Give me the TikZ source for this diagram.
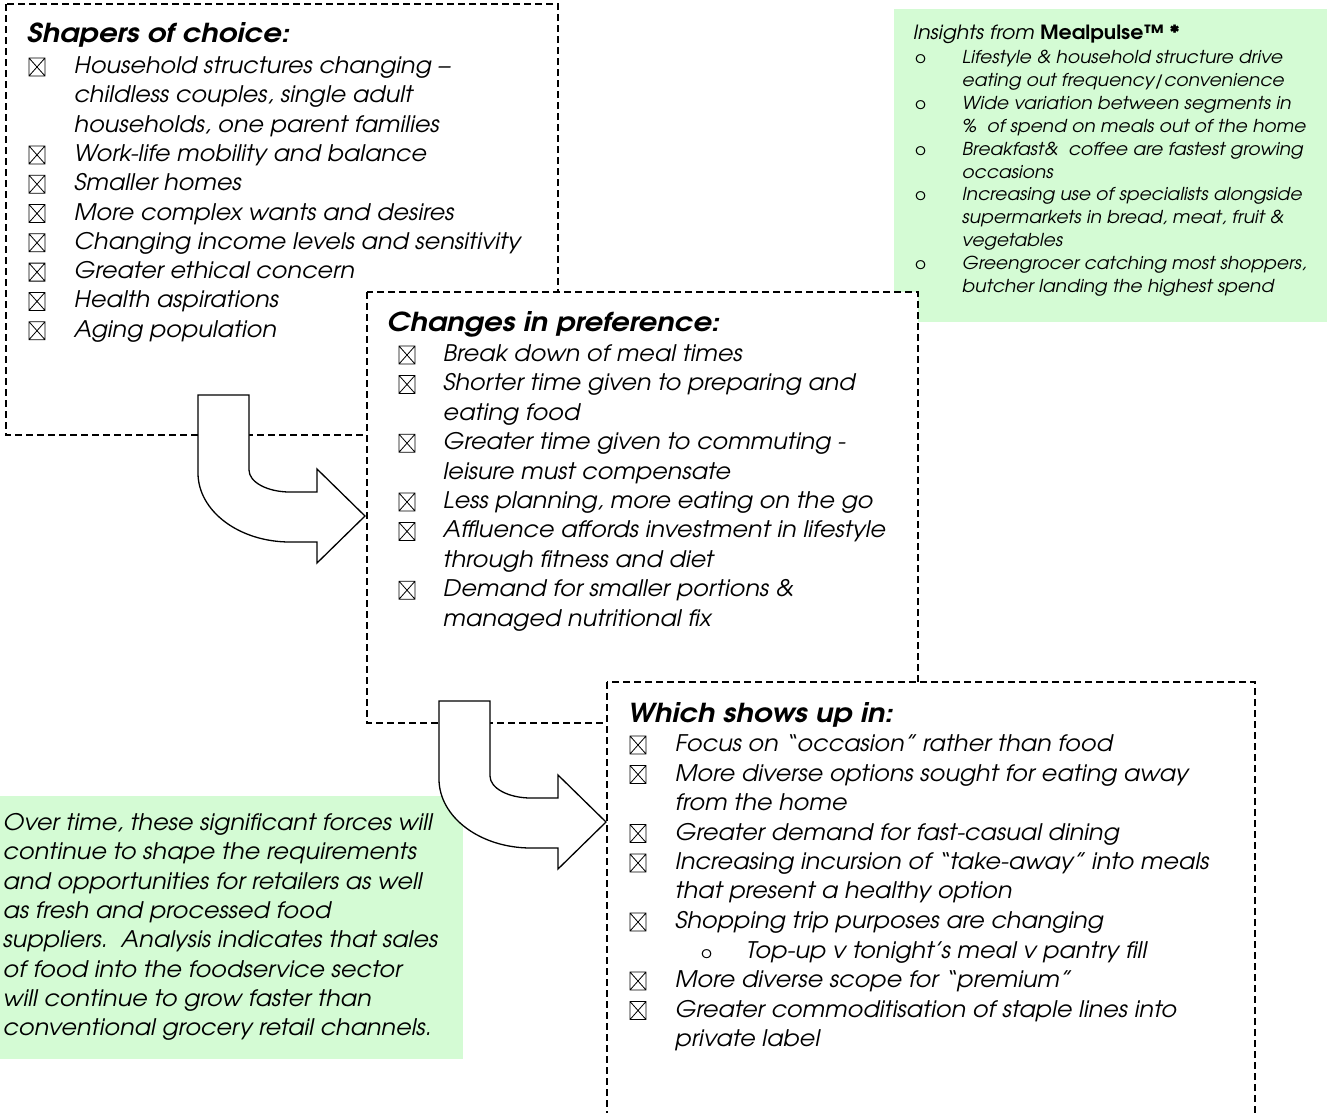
\documentclass[tikz,border=0pt]{standalone}
\usepackage{fontspec}
\setmainfont{texgyreadventor}[Extension=.otf, UprightFont=*-regular, BoldFont=*-bold, ItalicFont=*-italic, BoldItalicFont=*-bolditalic, FakeStretch=1.05]
\newfontfamily\ttlfont{texgyreadventor}[Extension=.otf, UprightFont=*-bolditalic, FakeStretch=1.12]
\definecolor{lgreen}{RGB}{212,251,212}
\newcommand\ml[1]{\begin{tabular}[t]{@{}l@{}}#1\end{tabular}}
\begin{document}
\begin{tikzpicture}[x=1pt,y=-1pt,
  dbox/.style={draw, dash pattern=on 7pt off 4pt, line width=1.2pt, fill=white},
  gbox/.style={fill=lgreen},
  barrow/.style={draw, fill=white, line width=1.3pt, line join=miter},
  body/.style={inner sep=0, anchor=base west, font=\itshape\fontsize{22.8}{29.3}\selectfont},
  ttl/.style={inner sep=0, anchor=base west, font=\ttlfont\fontsize{26.1}{29}\selectfont},
  small/.style={inner sep=0, anchor=base west, font=\itshape\fontsize{17.8}{22.9}\selectfont},
  obul/.style={inner sep=0, anchor=base west, font=\fontsize{16}{18}\selectfont},
  xbox/.pic={\draw[line width=0.8pt] (0,0) rectangle (16,-18) (0,0)--(16,-18) (0,-18)--(16,0);}]
\useasboundingbox (0,0) rectangle (1327,1112);
\clip (0,0) rectangle (1327,1112);
% backgrounds and boxes
\fill[gbox] (894,9) rectangle (1327,322);
\draw[dbox] (6,4) rectangle (558,435);
\draw[dbox] (367,292) rectangle (918,723);
\draw[dbox] (607,682) rectangle (1255,1140);
\fill[gbox] (0,796) rectangle (463,1059);
% block arrows
\foreach \dx/\dy in {0/0, 241/306}{
\draw[barrow, shift={(\dx,\dy)}] (198,395) -- (249,395) -- (249,470)
  .. controls (249,482) and (267,492) .. (290,492) -- (317,492) -- (317,469)
  -- (365,516) -- (317,563) -- (317,542) -- (290,542)
  .. controls (239,542) and (198,511) .. (198,473) -- cycle;
}
% Box 1
\node[ttl] (t1) at (27,42) {Shapers of choice:};
\foreach \k/\txt [count=\i] in {0/{\ml{Household structures changing –\\childless couples, single adult\\households, one parent families}},
  3/{Work-life mobility and balance}, 4/{Smaller homes}, 5/{More complex wants and desires},
  6/{Changing income levels and sensitivity}, 7/{Greater ethical concern},
  8/{Health aspirations}, 9/{Aging population}}{
  \pic at (29,76+29.3*\k) {xbox};
  \node[body] (a\i) at (74,73.5+29.3*\k) {\txt};
}
% Box 2
\node[ttl] (t2) at (387,331) {Changes in preference:};
\foreach \k/\txt [count=\i] in {0/{Break down of meal times},
  1/{\ml{Shorter time given to preparing and\\eating food}},
  3/{\ml{Greater time given to commuting -\\leisure must compensate}},
  5/{Less planning, more eating on the go},
  6/{\ml{Affluence affords investment in lifestyle\\through fitness and diet}},
  8/{\ml{Demand for smaller portions \&\\managed nutritional fix}}}{
  \pic at (399,364+29.4*\k) {xbox};
  \node[body] (c\i) at (443,361.5+29.4*\k) {\txt};
}
% Box 3
\node[ttl] (t3) at (628,722) {Which shows up in:};
\foreach \k/\txt [count=\i] in {0/{Focus on “occasion” rather than food},
  1/{\ml{More diverse options sought for eating away\\from the home}},
  3/{Greater demand for fast-casual dining},
  4/{\ml{Increasing incursion of “take-away” into meals\\that present a healthy option}},
  6/{Shopping trip purposes are changing},
  8/{More diverse scope for “premium”},
  9/{\ml{Greater commoditisation of staple lines into\\private label}}}{
  \pic at (630,754+29.5*\k) {xbox};
  \node[body] (w\i) at (675,751.5+29.5*\k) {\txt};
}
\node[obul] (wsb) at (701,751.5+29.5*7) {o};
\node[body] (ws) at (746,751.5+29.5*7) {Top-up v tonight’s meal v pantry fill};
% Green insights
\node[small, font=\fontsize{19.6}{22.9}\selectfont] (ins) at (913,39.5) {\textit{Insights from} \textbf{Mealpulse™ *}};
\foreach \k/\txt [count=\i] in {0/{\ml{Lifestyle \& household structure drive\\eating out frequency/convenience}},
  2/{\ml{Wide variation between segments in\\\%\ \ of spend on meals out of the home}},
  4/{\ml{Breakfast\&\ \ coffee are fastest growing\\occasions}},
  6/{\ml{Increasing use of specialists alongside\\supermarkets in bread, meat, fruit \&\\vegetables}},
  9/{\ml{Greengrocer catching most shoppers,\\butcher landing the highest spend}}}{
  \node[obul] (g\i b) at (915,63.5+22.9*\k) {o};
  \node[small] (g\i) at (962,63.5+22.9*\k) {\txt};
}
% Green summary
\node[body] (sum) at (3,830.5) {\ml{Over time, these significant forces will\\
continue to shape the requirements\\
and opportunities for retailers as well\\
as fresh and processed food\\
suppliers.\ \ Analysis indicates that sales\\
of food into the foodservice sector\\
will continue to grow faster than\\
conventional grocery retail channels.}};
\end{tikzpicture}
\end{document}
